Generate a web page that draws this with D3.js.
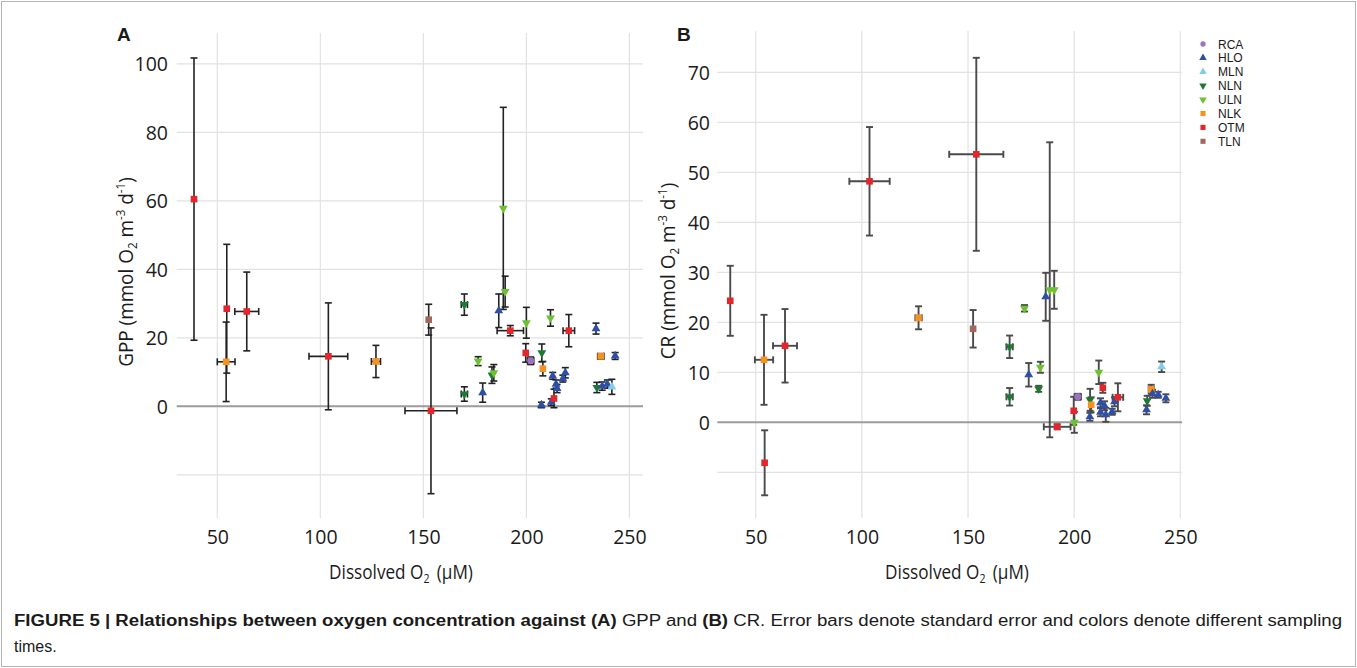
<!DOCTYPE html>
<html><head><meta charset="utf-8">
<script src="https://cdn.jsdelivr.net/npm/d3@7"></script>
<style>
html,body{margin:0;padding:0;background:#fff;}
svg{display:block;}
text{fill:#1a1a1a;}
</style></head>
<body>
<svg id="fig" width="1357" height="668"></svg>
<script>
// ---------- DATA ----------
const siteNames = ["RCA","HLO","MLN","NLN","ULN","NLK","OTM","TLN"];
const siteColors = ["#9d72c2","#2f4ea6","#80cde9","#1c7a34","#6cc230","#f7921e","#e4262c","#a1695c"];
const siteShapes = ["circle","up","up","down","down","square","square","square"];

// Panel A : GPP
const siteA = ["OTM","OTM","NLK","OTM","OTM","NLK","TLN","OTM","NLN","NLN","ULN","HLO","NLN","ULN","HLO","ULN","ULN","OTM","ULN","OTM","RCA","NLN","NLK","HLO","ULN","HLO","OTM","HLO","HLO","HLO","HLO","HLO","OTM","HLO","NLK","HLO","NLN","HLO","HLO","MLN"];
const o2A    = [38.7,54.6,54.3,64.3,103.9,127.0,152.6,153.7,169.9,169.9,176.6,178.8,183.3,184.2,186.6,188.8,189.7,192.2,200.0,199.7,202.1,207.5,208.0,207.3,211.7,212.1,213.4,212.8,214.4,214.9,217.7,218.9,220.6,233.8,236.1,243.1,234.2,236.8,239.3,241.5];
const o2ErrA = [0,0,4.3,5.8,9.4,2.2,0,12.6,1.5,1.5,0,0,0,0,0,0,0,6.4,0,0,1.5,0,0,0,0,0,0,0,0,0,0,0,2.8,0,1.5,0,0,0,0,0];
const gpp    = [60.5,28.5,13.0,27.7,14.6,13.1,25.3,-1.3,29.7,3.6,13.2,4.0,9.1,9.8,27.9,57.8,33.5,22.1,24.4,15.6,13.3,15.6,11.0,0.4,25.8,1.2,2.3,8.9,6.5,5.2,8.1,9.8,22.1,22.7,14.6,14.7,5.5,5.9,6.5,5.7];
const gppErr = [41.2,18.8,11.6,11.5,15.6,4.7,4.5,24.2,3.1,2.1,1.3,2.8,2.4,2.4,4.9,29.5,4.5,1.5,4.5,2.7,1.1,2.6,2.1,0.8,2.4,1.0,2.7,1.0,1.2,1.2,1.0,1.5,4.7,1.6,0.8,1.0,1.5,1.2,1.2,2.2];

// Panel B : CR
const siteB = ["OTM","OTM","NLK","OTM","OTM","NLK","TLN","OTM","NLN","NLN","ULN","HLO","NLN","ULN","HLO","ULN","ULN","OTM","ULN","OTM","RCA","NLN","NLK","HLO","ULN","HLO","OTM","HLO","HLO","HLO","HLO","HLO","OTM","HLO","NLK","HLO","NLN","HLO","HLO","MLN"];
const o2B    = [38.0,54.2,53.9,63.8,103.6,126.7,152.4,153.9,169.6,169.6,176.6,178.6,183.3,184.1,186.6,188.5,190.6,192.0,200.1,199.8,201.7,207.5,208.0,207.4,211.6,212.4,213.5,212.4,214.3,214.9,217.9,219.0,220.6,234.1,236.3,243.2,234.4,236.9,239.6,241.2];
const o2ErrB = [0,0,4.3,5.65,9.5,1.5,0,12.75,1.5,1.5,0,0,0,0,0,0,0,6.3,0,0,1.5,0,0,0,0,0,0,0,0,0,0,0,2.5,0,1.2,0,0,0,0,0];
const cr     = [24.3,-8.1,12.5,15.3,48.2,20.9,18.7,53.6,15.1,5.1,22.8,9.5,6.7,11.0,25.1,26.5,26.5,-0.9,0.0,2.3,5.1,4.5,3.5,1.1,10.0,2.0,6.9,3.9,3.3,1.5,2.1,4.1,5.0,2.5,6.6,4.8,4.3,5.7,5.5,11.1];
const crErr  = [7.0,6.5,9.0,7.35,10.85,2.3,3.75,19.3,2.25,1.75,0.65,2.35,0.6,1.1,4.8,29.5,3.8,0.5,2.1,2.8,0.6,2.2,1.5,0.8,2.35,0.8,1.0,0.9,0.9,1.4,0.6,0.9,2.8,0.9,0.9,0.8,1.0,0.8,0.6,1.05];

// Ticks
const xTicks = [50,100,150,200,250];
const gppTicks = [-20,0,20,40,60,80,100];
const gppTickLabels = ["","0","20","40","60","80","100"];
const crTicks = [-10,0,10,20,30,40,50,60,70];
const crTickLabels = ["","0","10","20","30","40","50","60","70"];

// ---------- DRAW ----------
const AXF = "'Open Sans','Noto Sans',sans-serif";
const CAPF = "'Liberation Sans Narrow','Arial Narrow','Liberation Sans',Arial,sans-serif";
const svg = d3.select("#fig");
svg.append("rect").attr("x",1.5).attr("y",1.5).attr("width",1354).attr("height",665)
  .attr("fill","none").attr("stroke","#b5b5b5").attr("stroke-width",1);

const shapeMap = {circle:d3.symbolCircle, up:d3.symbolTriangle, down:d3.symbolTriangle, square:d3.symbolSquare};
const sizeMap = {circle:38, up:34, down:34, square:44};

function panel(cfg){
  const g = svg.append("g");
  const x = d3.scaleLinear().domain(cfg.xDomain).range(cfg.xRange);
  const y = d3.scaleLinear().domain(cfg.yDomain).range(cfg.yRange);
  g.append("g").selectAll("line").data(xTicks).join("line")
    .attr("x1",d=>x(d)).attr("x2",d=>x(d))
    .attr("y1",cfg.yRange[1]).attr("y2",cfg.yRange[0])
    .attr("stroke","#e2e2e2").attr("stroke-width",1.2);
  g.append("g").selectAll("line").data(cfg.yTicks.filter(d=>d!==0)).join("line")
    .attr("x1",cfg.xRange[0]).attr("x2",cfg.xRange[1])
    .attr("y1",d=>y(d)).attr("y2",d=>y(d))
    .attr("stroke","#e2e2e2").attr("stroke-width",1.2);
  g.append("line").attr("x1",cfg.xRange[0]).attr("x2",cfg.xRange[1])
    .attr("y1",y(0)).attr("y2",y(0)).attr("stroke","#9b9b9b").attr("stroke-width",2);
  const xa = g.append("g").attr("transform",`translate(0,${cfg.xLabelY})`)
    .call(d3.axisBottom(x).tickValues(xTicks).tickSize(0).tickPadding(0));
  xa.select(".domain").remove();
  xa.selectAll("text").attr("font-size",19.5).attr("fill","#1a1a1a")
    .style("font-family",AXF).attr("dy","0");
  const ya = g.append("g").attr("transform",`translate(${cfg.yLabelX},0)`)
    .call(d3.axisLeft(y).tickValues(cfg.yTicks).tickSize(0).tickPadding(0)
      .tickFormat((d,i)=>cfg.yTickLabels[i]));
  ya.select(".domain").remove();
  ya.selectAll("text").attr("font-size",19.5).attr("fill","#1a1a1a")
    .style("font-family",AXF).attr("dy","0.36em");

  const n = cfg.o2.length;
  const idx = d3.range(n);
  const eg = g.append("g").attr("stroke",cfg.barColor).attr("stroke-width",cfg.barWidth).attr("fill","none");
  const cap = 3.5;
  idx.forEach(i=>{
    const cx = x(cfg.o2[i]);
    const lo = y(cfg.v[i]-cfg.e[i]), hi = y(cfg.v[i]+cfg.e[i]);
    if (cfg.e[i] > 0){
      eg.append("line").attr("x1",cx).attr("x2",cx).attr("y1",lo).attr("y2",hi);
      eg.append("line").attr("x1",cx-cap).attr("x2",cx+cap).attr("y1",lo).attr("y2",lo);
      eg.append("line").attr("x1",cx-cap).attr("x2",cx+cap).attr("y1",hi).attr("y2",hi);
    }
    if (cfg.xe[i] > 0){
      const cy = y(cfg.v[i]);
      const l = x(cfg.o2[i]-cfg.xe[i]), r = x(cfg.o2[i]+cfg.xe[i]);
      eg.append("line").attr("x1",l).attr("x2",r).attr("y1",cy).attr("y2",cy);
      eg.append("line").attr("x1",l).attr("x2",l).attr("y1",cy-cap).attr("y2",cy+cap);
      eg.append("line").attr("x1",r).attr("x2",r).attr("y1",cy-cap).attr("y2",cy+cap);
    }
  });
  g.append("g").selectAll("path").data(idx).join("path")
    .attr("d",i=>{const s=siteShapes[siteNames.indexOf(cfg.site[i])];return d3.symbol(shapeMap[s],sizeMap[s])();})
    .attr("transform",i=>{
      const s=siteShapes[siteNames.indexOf(cfg.site[i])];
      return `translate(${x(cfg.o2[i])},${y(cfg.v[i])})` + (s==="down"?" rotate(180)":"");
    })
    .attr("fill",i=>siteColors[siteNames.indexOf(cfg.site[i])]);

  g.append("text").attr("x",cfg.letterX).attr("y",41).attr("font-size",19)
    .attr("font-weight","bold").style("font-family","'Liberation Sans',Arial,sans-serif").text(cfg.letter);
  // x title (horizontally condensed to match the reference's narrower face)
  const xt = g.append("text").attr("transform",`translate(${cfg.xTitleX},579) scale(0.88,1)`)
    .attr("text-anchor","middle").attr("font-size",19.5).style("font-family",AXF);
  xt.append("tspan").text("Dissolved O");
  xt.append("tspan").attr("font-size",12).attr("dy",4).text("2");
  xt.append("tspan").attr("dy",-4).text("\u2009 (\u03bcM)");
  const yt = g.append("text").attr("transform",`translate(${cfg.yTitleX},${cfg.yTitleY}) rotate(-90) scale(${cfg.yTitleScale},1)`)
    .attr("text-anchor","middle").attr("font-size",19.5).style("font-family",AXF);
  yt.append("tspan").text(cfg.yName+" (mmol O");
  yt.append("tspan").attr("font-size",12).attr("dy",4).text("2");
  yt.append("tspan").attr("dy",-4).text(" m");
  yt.append("tspan").attr("font-size",12).attr("dy",-8).text("-3");
  yt.append("tspan").attr("dy",8).text(" d");
  yt.append("tspan").attr("font-size",12).attr("dy",-8).text("-1");
  yt.append("tspan").attr("dy",8).text(")");
}

panel({
  site:siteA, o2:o2A, xe:o2ErrA, v:gpp, e:gppErr,
  xDomain:[30.3,256.6], xRange:[176.7,643],
  yDomain:[-32.6,109.0], yRange:[518,33],
  yTicks:gppTicks, yTickLabels:gppTickLabels,
  xLabelY:544, yLabelX:168, barColor:"#222", barWidth:1.6,
  letter:"A", letterX:117, xTitleX:401, yTitleX:133, yTitleY:272, yTitleScale:0.97, yName:"GPP"
});
panel({
  site:siteB, o2:o2B, xe:o2ErrB, v:cr, e:crErr,
  xDomain:[31.9,250.8], xRange:[717.3,1182],
  yDomain:[-19.14,78.26], yRange:[518,31],
  yTicks:crTicks, yTickLabels:crTickLabels,
  xLabelY:544, yLabelX:710, barColor:"#4a4a4a", barWidth:1.9,
  letter:"B", letterX:677, xTitleX:957, yTitleX:675, yTitleY:271, yTitleScale:0.97, yName:"CR"
});

// legend
const lg = svg.append("g");
siteNames.forEach((nm,i)=>{
  const cy = 44 + i*13.9;
  const s = siteShapes[i];
  const sz = {circle:22, up:24, down:24, square:26}[s];
  lg.append("path").attr("d",d3.symbol(shapeMap[s],sz)())
    .attr("transform",`translate(1203,${cy})`+(s==="down"?" rotate(180)":""))
    .attr("fill",siteColors[i]);
  lg.append("text").attr("x",1218).attr("y",cy+4.5).attr("font-size",12)
    .style("font-family","'Liberation Sans',Arial,sans-serif").text(nm);
});

// caption
const cap1 = svg.append("text").attr("x",14).attr("y",626).attr("font-size",16)
  .style("font-family",CAPF)
  .attr("textLength",1328).attr("lengthAdjust","spacingAndGlyphs").attr("fill","#222");
cap1.append("tspan").attr("font-weight","bold").text("FIGURE 5 | Relationships between oxygen concentration against (A)");
cap1.append("tspan").text(" GPP and ");
cap1.append("tspan").attr("font-weight","bold").text("(B)");
cap1.append("tspan").text(" CR. Error bars denote standard error and colors denote different sampling");
svg.append("text").attr("x",14).attr("y",652).attr("font-size",16)
  .style("font-family",CAPF).attr("fill","#222").text("times.");
</script>
</body></html>
